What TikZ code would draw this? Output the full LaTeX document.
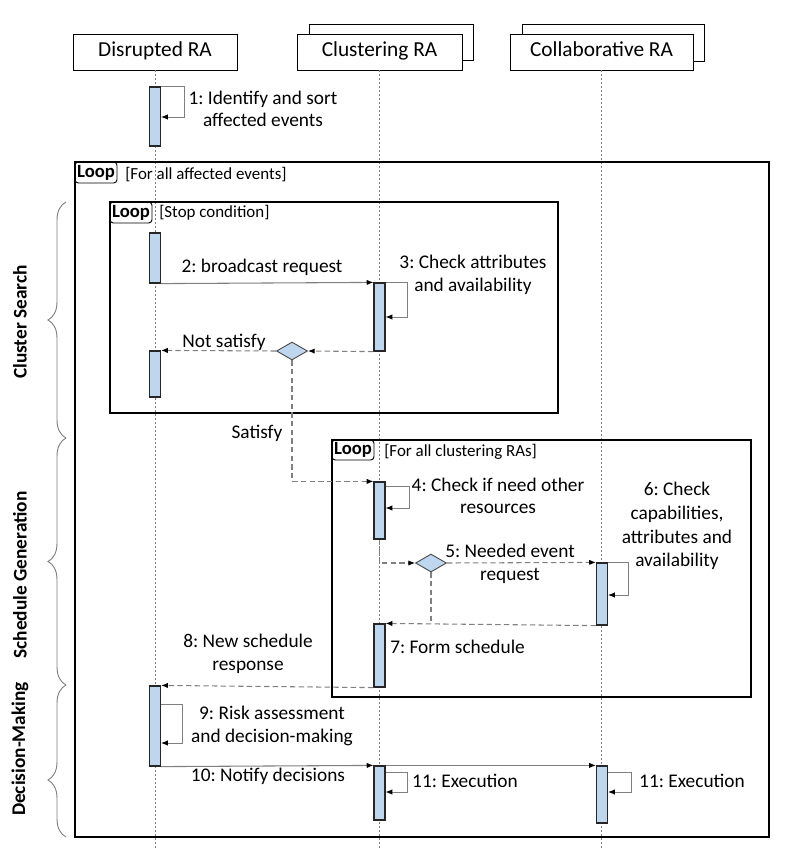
\documentclass[tikz,border=0pt]{standalone}
\usepackage{fontspec}
\setmainfont{Carlito}
\frenchspacing
\usetikzlibrary{arrows.meta,shapes.geometric,fit,decorations.pathreplacing}
\definecolor{barblue}{RGB}{190,214,238}
\definecolor{lgray}{RGB}{128,128,128}
\begin{document}
\frenchspacing
\begin{tikzpicture}[x=0.75pt,y=-0.75pt,
  hdr/.style={draw=black, line width=0.6pt, fill=white, inner sep=0pt},
  hdrtext/.style={font=\fontsize{16}{19}\selectfont, inner sep=0pt, text height=11pt, text depth=3.5pt},
  bar/.style={draw=black!85, line width=0.9pt, fill=barblue, inner sep=0pt},
  lifeline/.style={draw=lgray, line width=0.5pt, dash pattern=on 1.5pt off 1.5pt},
  frame/.style={draw=black, line width=1pt, inner sep=0pt},
  tagbox/.style={draw=black, line width=0.7pt, rounded corners=2.5pt, inner sep=0pt},
  tagtext/.style={font=\bfseries\fontsize{14}{16}\selectfont, inner sep=0pt},
  guard/.style={font=\fontsize{12.7}{15}\selectfont, inner sep=0pt, anchor=west},
  tip/.style={-{Latex[black,length=5pt,width=4pt]}},
  msg/.style={draw=lgray, line width=0.8pt, tip},
  ret/.style={msg, dash pattern=on 4pt off 2.5pt},
  plainret/.style={draw=lgray, line width=0.8pt, dash pattern=on 4pt off 2.5pt},
  selfl/.style={draw=lgray, line width=0.7pt, tip},
  dec/.style={diamond, draw=black!70, line width=0.7pt, fill=barblue, inner sep=0pt,
              minimum width=23.25pt, minimum height=13.5pt},
  lbl/.style={font=\fontsize{14.5}{17}\selectfont, align=center, inner sep=0pt},
  side/.style={font=\bfseries\fontsize{14.5}{17}\selectfont, inner sep=0pt, rotate=90},
  brc/.style={draw=lgray, line width=0.7pt, decorate}
]
\useasboundingbox (0,0) rectangle (787,859);

% headers
\node[hdr, fit={(73,34)(237,70)}] (hD) {};
\node[hdrtext] at (hD.center) {Disrupted RA};
\node[hdr, fit={(309,24)(473,60)}] (hCb) {};
\node[hdr, fit={(297,34)(462,70)}] (hC) {};
\node[hdrtext] at (hC.center) {Clustering RA};
\node[hdr, fit={(522,24)(704,61)}] (hKb) {};
\node[hdr, fit={(510,34)(693,70)}] (hK) {};
\node[hdrtext] at (hK.center) {Collaborative RA};

% lifeline ends
\coordinate (eD) at (155,848);
\coordinate (eC) at (379.5,848);
\coordinate (eK) at (601.5,848);
\draw[lifeline] (hD.south) -- (eD);
\draw[lifeline] (hC.south) -- (eC);
\draw[lifeline] (hK.south) -- (eK);

% frames
\node[frame, fit={(75,162)(769,837)}] (fO) {};
\node[tagbox, fit={(75,162)(117,183)}] (tO) {};
\node[tagtext] at (tO.center) {Loop};
\node[guard] at (125,175) {[For all affected events]};

\node[frame, fit={(110,202)(558,413)}] (f1) {};
\node[tagbox, fit={(110,202)(152,223)}] (t1) {};
\node[tagtext] at (t1.center) {Loop};
\node[guard] at (159,213) {[Stop condition]};

\node[frame, fit={(332,440)(751,697)}] (f2) {};
\node[tagbox, fit={(332,440)(374,460)}] (t2) {};
\node[tagtext] at (t2.center) {Loop};
\node[guard] at (384,452) {[For all clustering RAs]};

% side braces
\draw[brc, decoration={brace, amplitude=13.5pt}] (66,438) -- (66,202);
\draw[brc, decoration={brace, amplitude=13.5pt}] (66,685) -- (66,438);
\draw[brc, decoration={brace, amplitude=13.5pt, aspect=0.375}] (66,837) -- (66,685);
\node[side] at (20,322) {Cluster Search};
\node[side] at (20,575) {Schedule Generation};
\node[side] at (20,749) {Decision-Making};

% activation bars
\node[bar, fit={(149.5,87)(160.5,146)}] (b1) {};
\node[bar, fit={(149.5,233)(160.5,283)}] (b2) {};
\node[bar, fit={(149.5,351)(160.5,397)}] (b3) {};
\node[bar, fit={(149.5,686)(160.5,766)}] (b9) {};
\node[bar, fit={(374,283)(385,351)}] (c3) {};
\node[bar, fit={(374,482)(385,539)}] (c4) {};
\node[bar, fit={(374,624)(385,687)}] (c7) {};
\node[bar, fit={(374,766)(385,820)}] (c11) {};
\node[bar, fit={(596.5,563)(607.5,625)}] (k6) {};
\node[bar, fit={(596.5,766)(607.5,823)}] (k11) {};

% decisions
\node[dec] (d1) at (292,351) {};
\node[dec] (d2) at (431,563) {};

% self loops
\draw[selfl] (b1.north east) -- ++(23,0) |- (b1.east |- 0,117);
\draw[selfl] (c3.north east) -- ++(22,0) |- (c3.east |- 0,317);
\draw[selfl] (c4.east |- 0,486) -- ++(24,0) |- (c4.east |- 0,508);
\draw[selfl] (k6.north east) -- ++(20,0) |- (k6.east |- 0,595);
\draw[selfl] (b9.east |- 0,704) -- ++(21,0) |- (b9.east |- 0,743);
\draw[selfl] (c11.east |- 0,772) -- ++(22,0) |- (c11.east |- 0,792);
\draw[selfl] (k11.east |- 0,772) -- ++(23,0) |- (k11.east |- 0,792);

% messages
\draw[msg] (b2.south east) -- (c3.north west);
\draw[ret] (c3.south west) -- (d1.east);
\draw[ret] (d1.west) -- (b3.north east);
\draw[ret] (d1.south) |- (c4.north west);
\draw[ret] (c4.south) |- (d2.west);
\draw[ret] (d2.east) -- (k6.north west);
\draw[plainret] (d2.south) -- (d2.south |- c7.north);
\draw[ret] (k6.south west) -- (c7.north east);
\draw[ret] (c7.south west) -- (b9.north east);
\draw[msg] (b9.south east) -- (c11.north west);
\draw[msg] (c11.north east) -- (k11.north west);

% labels
\node[lbl] at (263,109) {1: Identify and sort\\affected events};
\node[lbl] at (262,267) {2: broadcast request};
\node[lbl] at (473,275) {3: Check attributes\\and availability};
\node[lbl] at (224,342) {Not satisfy};
\node[lbl] at (257,433) {Satisfy};
\node[lbl] at (498,496) {4: Check if need other\\resources};
\node[lbl] at (510,564) {5: Needed event\\request};
\node[lbl, font=\fontsize{14.5}{17.8}\selectfont] at (677,526) {6: Check\\capabilities,\\attributes and\\availability};
\node[lbl, anchor=west] at (390,647) {7: Form schedule};
\node[lbl] at (248,654) {8: New schedule\\response};
\node[lbl] at (272,726) {9: Risk assessment\\and decision-making};
\node[lbl] at (268,776) {10: Notify decisions};
\node[lbl] at (465,781) {11: Execution};
\node[lbl] at (692,781) {11: Execution};
\end{tikzpicture}
\end{document}
